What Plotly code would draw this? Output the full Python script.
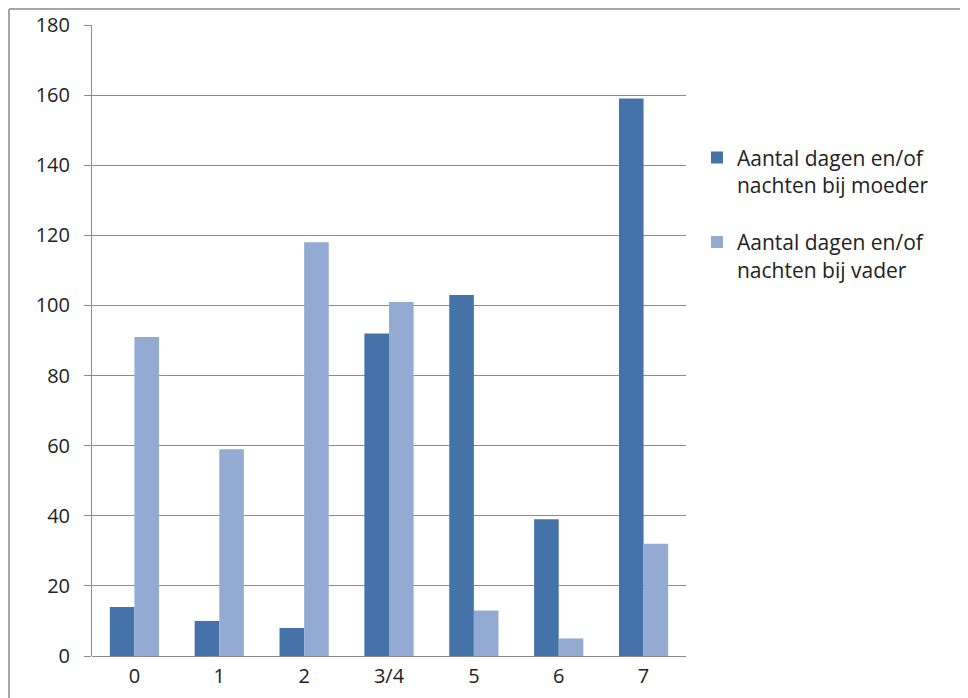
import plotly.graph_objects as go

categories = ["0", "1", "2", "3/4", "5", "6", "7"]
moeder = [14, 10, 8, 92, 103, 39, 159]
vader = [91, 59, 118, 101, 13, 5, 32]
series_names = ["Aantal dagen en/of<br>nachten bij moeder", "Aantal dagen en/of<br>nachten bij vader"]
y_ticks = [0, 20, 40, 60, 80, 100, 120, 140, 160, 180]

FONT = "Open Sans, sans-serif"

fig = go.Figure()
fig.add_trace(go.Bar(x=categories, y=moeder, name=series_names[0], legendgroup="m",
                     marker_color="#4672AA", marker_line_width=0))
fig.add_trace(go.Bar(x=categories, y=vader, name=series_names[1], legendgroup="v",
                     marker_color="#93ABD3", marker_line_width=0))

W, H = 960, 690
L, T, B = 84, 17, 42
PW = 594
PH = H - T - B

fig.update_layout(
    width=W, height=H,
    margin=dict(l=L, r=W - L - PW, t=T, b=B, autoexpand=False),
    paper_bgcolor="white", plot_bgcolor="white",
    barmode="group", bargap=0.42, bargroupgap=0,
    font=dict(family=FONT, size=18, color="#222"),
    legend=dict(x=1.0185, y=0.822, xanchor="left", yanchor="top",
                font=dict(size=21, color="#222"), tracegroupgap=27,
                itemwidth=30, traceorder="grouped", valign="top"),
    xaxis=dict(showgrid=False, showline=False, ticks="", tickfont=dict(size=20),
               ticklabelstandoff=6, automargin=False),
    yaxis=dict(range=[0, 180], tickvals=y_ticks, showgrid=True, gridcolor="#8c8c8c", gridwidth=1,
               showline=True, linecolor="#8c8c8c", linewidth=1, ticks="outside", ticklen=7,
               tickcolor="#8c8c8c", zeroline=True, zerolinecolor="#8c8c8c", zerolinewidth=1,
               ticklabelstandoff=10, tickfont=dict(size=20), automargin=False),
    shapes=[
        dict(type="line", xref="paper", yref="paper", x0=-(L - 1) / PW, x1=(W - L) / PW,
             y0=1 + (T - 1) / PH, y1=1 + (T - 1) / PH,
             line=dict(color="#a6a6a6", width=2)),
        dict(type="line", xref="paper", yref="paper", x0=-(L - 1) / PW, x1=-(L - 1) / PW,
             y0=1 + (T - 1) / PH, y1=-B / PH,
             line=dict(color="#a6a6a6", width=2)),
    ],
)

fig.write_html("out.html")
